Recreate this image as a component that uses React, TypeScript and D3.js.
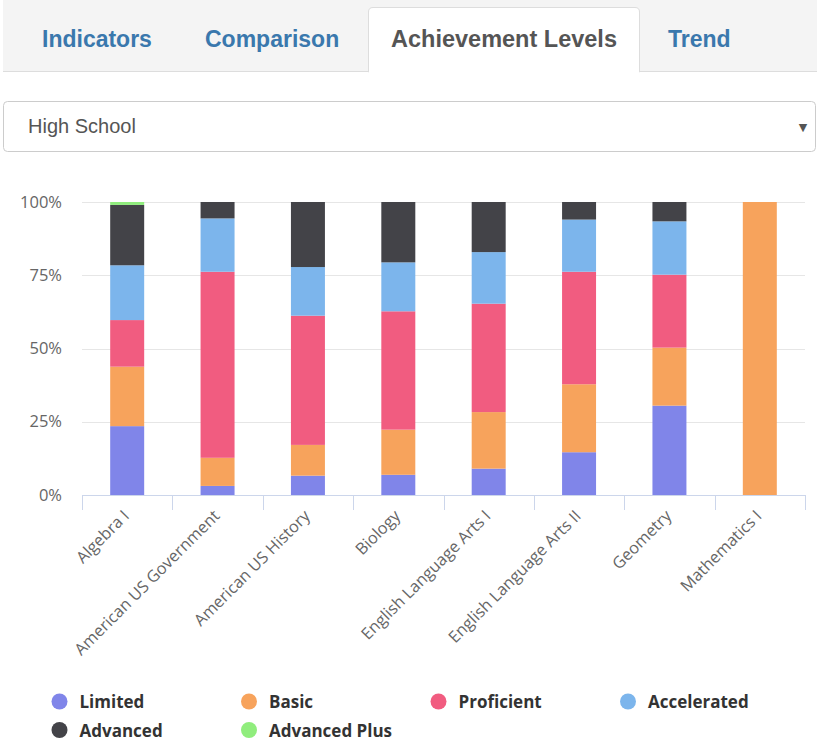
import React from "react";
import * as d3 from "d3";

const categories = [
  "Algebra I",
  "American US Government",
  "American US History",
  "Biology",
  "English Language Arts I",
  "English Language Arts II",
  "Geometry",
  "Mathematics I",
];
const limited = [23.5, 3.1, 6.6, 6.9, 9.0, 14.6, 30.5, 0];
const basic = [20.3, 9.6, 10.5, 15.4, 19.3, 23.2, 19.8, 100];
const proficient = [15.9, 63.5, 44.1, 40.4, 37.0, 38.4, 24.9, 0];
const accelerated = [18.7, 18.2, 16.6, 16.7, 17.6, 17.8, 18.2, 0];
const advanced = [20.6, 5.6, 22.2, 20.6, 17.1, 6.0, 6.6, 0];
const advancedPlus = [1.0, 0, 0, 0, 0, 0, 0, 0];

const seriesNames = ["Limited", "Basic", "Proficient", "Accelerated", "Advanced", "Advanced Plus"];
const seriesColors = ["#8085e9", "#f7a35c", "#f15c80", "#7cb5ec", "#434348", "#90ed7d"];
const yTicks = [0, 25, 50, 75, 100];
const tabs = ["Indicators", "Comparison", "Achievement Levels", "Trend"];
const activeTab = "Achievement Levels";
const dropdownLabel = "High School";

const W = 817;
const H = 741;

export default function App() {
  const seriesValues = [limited, basic, proficient, accelerated, advanced, advancedPlus];
  const rows = categories.map((c, i) => {
    const r: any = { category: c };
    seriesNames.forEach((s, k) => (r[s] = seriesValues[k][i]));
    return r;
  });
  const stacked = d3.stack<any>().keys(seriesNames)(rows);

  const x = d3.scaleBand<string>().domain(categories).range([82, 805]).padding(0);
  const y = d3.scaleLinear().domain([0, 100]).range([495, 202]);
  const barW = x.bandwidth() * 0.376;

  const tabX = [42, 205, 391, 668];
  const tabSize = [23, 23, 23.5, 23];

  return (
    <div style={{ position: "absolute", left: 0, top: 0 }}>
      <svg width={W} height={H} style={{ display: "block" }}>
        <rect x={0} y={0} width={W} height={H} fill="#fff" />
        {/* Tabs */}
        <rect x={3} y={0} width={W - 3} height={71} fill="#f4f4f4" />
        <line x1={3} x2={W} y1={71.5} y2={71.5} stroke="#dddddd" />
        <path
          d="M368.5,72 L368.5,12 Q368.5,7.5 373,7.5 L635,7.5 Q639.5,7.5 639.5,12 L639.5,72 Z"
          fill="#fff"
          stroke="#dddddd"
        />
        <rect x={369} y={70} width={270} height={3} fill="#fff" />
        {tabs.map((t, i) => (
          <text
            key={t}
            x={tabX[i]}
            y={47}
            fontFamily="'Liberation Sans', Arial, sans-serif"
            fontWeight={700}
            fontSize={tabSize[i]}
            fill={t === activeTab ? "#555555" : "#3a78ad"}
          >
            {t}
          </text>
        ))}
        {/* Dropdown */}
        <rect x={3.5} y={101.5} width={812} height={50} rx={4} fill="#fff" stroke="#cccccc" />
        <text x={28} y={133} fontFamily="'Liberation Sans', Arial, sans-serif" fontSize={20} fill="#555">
          {dropdownLabel}
        </text>
        <text x={803} y={131} textAnchor="middle" fontFamily="'DejaVu Sans', sans-serif" fontSize={11} fill="#555">
          ▼
        </text>

        {/* Grid */}
        {yTicks.map((t) => (
          <line key={t} x1={82} x2={805} y1={Math.round(y(t)) + 0.5} y2={Math.round(y(t)) + 0.5} stroke="#e6e6e6" />
        ))}
        {yTicks.map((t) => (
          <text
            key={"l" + t}
            x={62}
            y={y(t) + 5.5}
            textAnchor="end"
            fontFamily="'Open Sans', sans-serif"
            fontSize={16.5}
            fill="#666"
          >
            {t + "%"}
          </text>
        ))}

        {/* Bars */}
        {stacked.map((s, k) => (
          <g key={s.key} fill={seriesColors[k]}>
            {s.map((d, i) => {
              const h = y(d[0]) - y(d[1]);
              if (h <= 0) return null;
              const cx = (x(categories[i]) as number) + x.bandwidth() / 2;
              return <rect key={i} x={cx - barW / 2} y={y(d[1])} width={barW} height={h} />;
            })}
          </g>
        ))}

        {/* X axis */}
        <line x1={82} x2={805} y1={495.5} y2={495.5} stroke="#ccd6eb" />
        {categories.concat([""]).map((c, i) => {
          const xx = Math.round(82 + x.step() * i) + 0.5;
          return <line key={"t" + i} x1={xx} x2={xx} y1={495} y2={510} stroke="#ccd6eb" />;
        })}
        {categories.map((c) => {
          const cx = (x(c) as number) + x.bandwidth() / 2;
          return (
            <text
              key={"x" + c}
              transform={`translate(${cx + 3},${517}) rotate(-45)`}
              textAnchor="end"
              fontFamily="'Open Sans', sans-serif"
              fontSize={16.3}
              fill="#666"
            >
              {c}
            </text>
          );
        })}

        {/* Legend */}
        {seriesNames.map((s, k) => {
          const col = k % 4;
          const row = Math.floor(k / 4);
          const lx = 59.5 + col * 189.5;
          const ly = 701.5 + row * 28.5;
          return (
            <g key={"lg" + s}>
              <circle cx={lx} cy={ly} r={8} fill={seriesColors[k]} />
              <text
                x={lx + 20}
                y={ly + 6.5}
                fontFamily="'Open Sans', sans-serif"
                fontWeight={700}
                fontSize={17}
                fill="#333"
              >
                {s}
              </text>
            </g>
          );
        })}
      </svg>
    </div>
  );
}
